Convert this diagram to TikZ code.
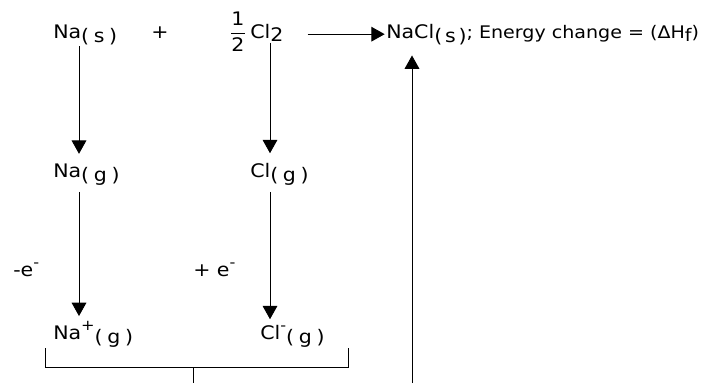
\documentclass[tikz,border=0pt]{standalone}
\usepackage{fontspec}
\setmainfont[FakeStretch=1.1]{DejaVu Sans}
\usetikzlibrary{arrows.meta}
\newcommand{\phase}[1]{\raisebox{-0.4ex}{(\hspace{0.25em}#1\hspace{0.25em})}}
\newcommand{\charge}[1]{\raisebox{0.8ex}{\fontsize{11}{11}\selectfont #1}}

\begin{document}
\begin{tikzpicture}[x=0.75pt, y=-0.75pt, every node/.style={font=\fontsize{14}{16}\selectfont, inner sep=0pt, anchor=base west}, arr/.style={-{Triangle[length=10pt,width=11pt]}, line width=0.7pt}]
	\useasboundingbox (0,0) rectangle (725,383);
	% top line: reactants and product
	\node (nas) at (53,38) {Na\phase{s}};
	\node[anchor=base] (plus) at (160,38) {+};
	\node[anchor=base] (half) at (238,38) {$\displaystyle\frac{\mbox{1}}{\mbox{2}}$};
	\node (cl2) at (250,38) {Cl\raisebox{-0.3ex}{2}};
	\node (nacl) at (386,38) {NaCl\raisebox{-0.4ex}{(\hspace{0.15em}s\hspace{0.15em})}{\fontsize{13}{15}\selectfont; Energy change = (ΔH\raisebox{-0.4ex}{f})}};
	% gaseous atoms and ions
	\node (nag) at (53,177) {Na\phase{g}};
	\node (clg) at (250,177) {Cl\phase{g}};
	\node (naion) at (53,339) {Na\charge{+}\phase{g}};
	\node (clion) at (260,339) {Cl\charge{-}\phase{g}};
	\node (lose) at (13,276) {-e\charge{-}};
	\node (gain) at (193,276) {+ e\charge{-}};
	\draw[arr, shorten >=1pt] ([xshift=18pt]cl2.east |- nacl.west) -- (nacl.west);
	\draw[arr, shorten <=1pt, shorten >=7pt] ([xshift=19.5pt]nas.south west) -- ([xshift=19.5pt]nag.north west);
	\draw[arr, shorten <=1pt, shorten >=7pt] ([xshift=15pt]cl2.south west) -- ([xshift=15pt]clg.north west);
	\draw[arr, shorten <=5pt, shorten >=4pt] ([xshift=19.5pt]nag.south west) -- ([xshift=19.5pt]nag.south west |- naion.north);
	\draw[arr, shorten <=5pt, shorten >=4pt] ([xshift=15pt]clg.south west) -- ([xshift=15pt]clg.south west |- clion.north);
	% bracket joining the ions
	\coordinate (brl) at (45,367);
	\coordinate (brr) at (348,367);
	\coordinate (stem) at (193,367);
	\coordinate (stemend) at (193,383);
	\coordinate (up) at (412,383);
	\draw[line width=0.7pt] ([yshift=14pt]brl) -- (brl) -- (brr) -- ([yshift=14pt]brr);
	\draw[line width=0.7pt] (stem) -- (stemend);
	\draw[arr, shorten >=8pt] (up) -- (up |- nacl.south);
\end{tikzpicture}
\end{document}
